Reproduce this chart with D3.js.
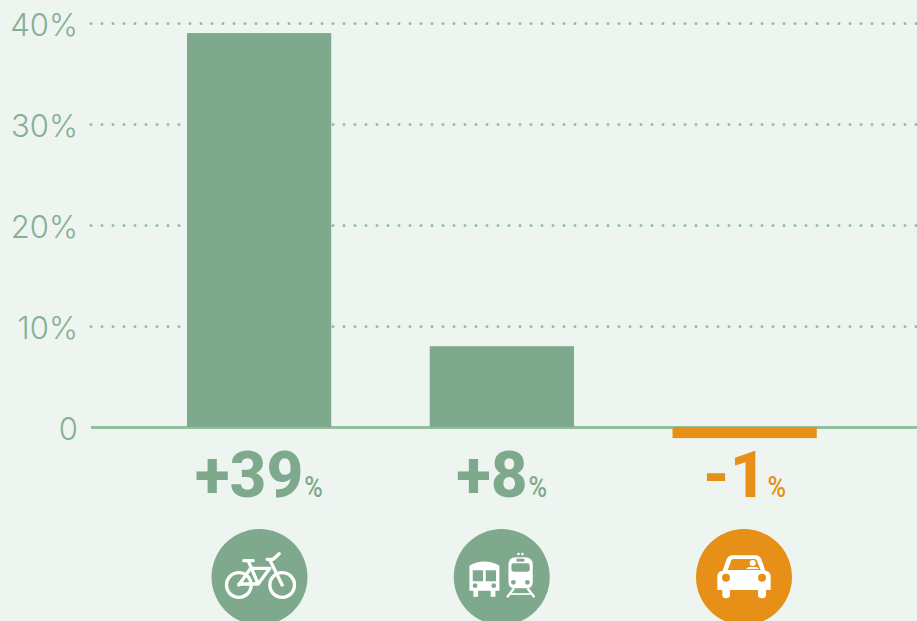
<!DOCTYPE html>
<html>
<head>
<meta charset="utf-8">
<script src="https://cdn.jsdelivr.net/npm/d3@7"></script>
<style>
  html, body { margin: 0; padding: 0; background: #eef5f1; overflow: hidden; }
</style>
</head>
<body>
<div id="chart"></div>
<script>
const categories = ["bike", "transit", "car"];
const values = [39, 8, -1.1];
const changeLabels = ["+39", "+8", "-1"];
const tickValues = [0, 10, 20, 30, 40];
const tickLabels = ["0", "10%", "20%", "30%", "40%"];

const width = 917, height = 621;
const green = "#7ea98c", orange = "#e69017", lineGreen = "#93bf9f", tickGreen = "#86b094";

const svg = d3.select("#chart")
  .append("svg")
  .attr("width", width)
  .attr("height", height)
  .style("display", "block");

svg.append("rect")
  .attr("width", width)
  .attr("height", height)
  .attr("fill", "#eef5f1");

const x = d3.scaleBand()
  .domain(categories)
  .range([137.75, 866])
  .paddingInner(0.4058)
  .paddingOuter(0.2029);

// the icons sit a little off the bar centres
const iconX = d3.scalePoint()
  .domain(categories)
  .range([259.5, 744]);

const y = d3.scaleLinear()
  .domain([0, 40])
  .range([427, 23]);

const barColor = i => values[i] < 0 ? orange : green;

// y axis, the tick lines double as the gridlines
const axis = svg.append("g")
  .attr("transform", "translate(91,0)")
  .call(d3.axisRight(y)
    .tickValues(tickValues)
    .tickSize(826)
    .tickFormat((d, i) => tickLabels[i]));

axis.select(".domain").remove();

axis.selectAll(".tick line")
  .attr("stroke", lineGreen)
  .attr("stroke-width", 3)
  .attr("stroke-linecap", d => d === 0 ? "butt" : "round")
  .attr("stroke-dasharray", d => d === 0 ? null : "0 11");

axis.selectAll(".tick text")
  .attr("x", -13)
  .attr("dy", "0.39em")
  .attr("text-anchor", "end")
  .attr("fill", tickGreen)
  .style("font-family", "Inter")
  .style("font-weight", 300)
  .style("font-size", "31px");

// bars
svg.selectAll(".bar")
  .data(values)
  .join("rect")
    .attr("class", "bar")
    .attr("x", (d, i) => x(categories[i]))
    .attr("y", d => y(Math.max(d, 0)))
    .attr("width", x.bandwidth())
    .attr("height", d => Math.abs(y(d) - y(0)))
    .attr("fill", (d, i) => barColor(i));

// change labels under the bars, number and squeezed % centred together
const pctWidth = 19, pctGap = 1;

const labels = svg.selectAll(".change")
  .data(changeLabels)
  .join("g")
    .attr("class", "change")
    .attr("fill", (d, i) => barColor(i))
    .attr("transform", (d, i) => `translate(${x(categories[i]) + x.bandwidth() / 2},497)`);

labels.append("text")
  .attr("class", "number")
  .style("font-family", "Roboto")
  .style("font-weight", 800)
  .style("font-size", "64px")
  .text(d => d);

labels.each(function() {
  const g = d3.select(this);
  const w = g.select(".number").node().getComputedTextLength();
  const start = -(w + pctGap + pctWidth) / 2;
  g.select(".number").attr("x", start);
  g.append("text")
    .attr("transform", `translate(${start + w + pctGap},0) scale(0.84,1)`)
    .style("font-family", "Roboto")
    .style("font-weight", 500)
    .style("font-size", "30px")
    .text("%");
});

// icons, drawn in 3x units around the middle of each circle
const iconCentre = { bike: [209, 171], transit: [185, 171], car: [192, 171] };

const icons = svg.selectAll(".icon")
  .data(categories)
  .join("g")
    .attr("class", "icon")
    .attr("transform", d => `translate(${iconX(d)},577)`);

icons.append("circle")
  .attr("r", 48)
  .attr("fill", (d, i) => barColor(i));

const glyph = icons.append("g")
  .attr("transform", d => `scale(${1 / 3}) translate(${-iconCentre[d][0]},${-iconCentre[d][1]})`);

const drawBike = g => {
  g.selectAll("circle.wheel")
    .data([147, 277])
    .join("circle")
      .attr("class", "wheel")
      .attr("cx", d => d)
      .attr("cy", 195)
      .attr("r", 37)
      .attr("fill", "none")
      .attr("stroke", "#fff")
      .attr("stroke-width", 10);
  g.append("path")
    .attr("d", "M147 195L182 145H240L205 192H147M175 122L205 192M162 122H190M232 118H250L268 101M240 120L277 195")
    .attr("fill", "none")
    .attr("stroke", "#fff")
    .attr("stroke-width", 10)
    .attr("stroke-linecap", "round")
    .attr("stroke-linejoin", "round");
};

const drawTransit = (g, fill) => {
  // bus body with windows and lights cut out in the circle colour
  g.append("path")
    .attr("d", "M88 137Q133 112 178 137V212H166V230H152V212H114V230H100V212H88Z")
    .attr("fill", "#fff");
  g.append("path")
    .attr("d", "M98 151H129V184H98ZM137 151H168V184H137Z")
    .attr("fill", fill);
  g.selectAll("circle.buslight")
    .data([105, 161])
    .join("circle")
      .attr("class", "buslight")
      .attr("cx", d => d)
      .attr("cy", 197)
      .attr("r", 7)
      .attr("fill", fill);
  // train
  g.append("path")
    .attr("d", "M205 135Q205 112 228 112H255Q278 112 278 135V185Q278 205 258 205H225Q205 205 205 185Z")
    .attr("fill", "#fff");
  g.append("rect")
    .attr("x", 214).attr("y", 130).attr("width", 55).attr("height", 25).attr("rx", 7)
    .attr("fill", fill);
  g.append("rect")
    .attr("x", 229).attr("y", 116).attr("width", 24).attr("height", 9)
    .attr("fill", fill);
  g.selectAll("circle.trainlight")
    .data([220, 262])
    .join("circle")
      .attr("class", "trainlight")
      .attr("cx", d => d)
      .attr("cy", 187)
      .attr("r", 7)
      .attr("fill", fill);
  g.selectAll("circle.roof")
    .data([235, 247])
    .join("circle")
      .attr("class", "roof")
      .attr("cx", d => d)
      .attr("cy", 102)
      .attr("r", 4)
      .attr("fill", "#fff");
  g.append("path")
    .attr("d", "M222 205L201 232M262 205L283 232")
    .attr("stroke", "#fff")
    .attr("stroke-width", 7)
    .attr("fill", "none");
  g.append("path")
    .attr("d", "M212 222H272")
    .attr("stroke", "#fff")
    .attr("stroke-width", 5)
    .attr("fill", "none");
};

const drawCar = (g, fill) => {
  g.append("path")
    .attr("d", "M112 168Q112 155 128 152L140 118Q145 106 158 106H226Q239 106 244 118L256 152Q272 155 272 168V210H258V225Q258 235 246 235Q234 235 234 225V210H150V225Q150 235 138 235Q127 235 127 225V210H112Z")
    .attr("fill", "#fff");
  g.append("path")
    .attr("d", "M143 150L154 121Q156 117 161 117H223Q228 117 230 121L242 150Z")
    .attr("fill", fill);
  g.append("circle")
    .attr("cx", 218).attr("cy", 129).attr("r", 9)
    .attr("fill", "#fff");
  g.append("path")
    .attr("d", "M198 147L206 141H230L238 147Z")
    .attr("fill", "#fff");
  g.selectAll("circle.headlight")
    .data([138, 246])
    .join("circle")
      .attr("class", "headlight")
      .attr("cx", d => d)
      .attr("cy", 173)
      .attr("r", 12)
      .attr("fill", fill);
};

glyph.each(function(d, i) {
  const g = d3.select(this);
  if (d === "bike") drawBike(g);
  if (d === "transit") drawTransit(g, barColor(i));
  if (d === "car") drawCar(g, barColor(i));
});
</script>
</body>
</html>
